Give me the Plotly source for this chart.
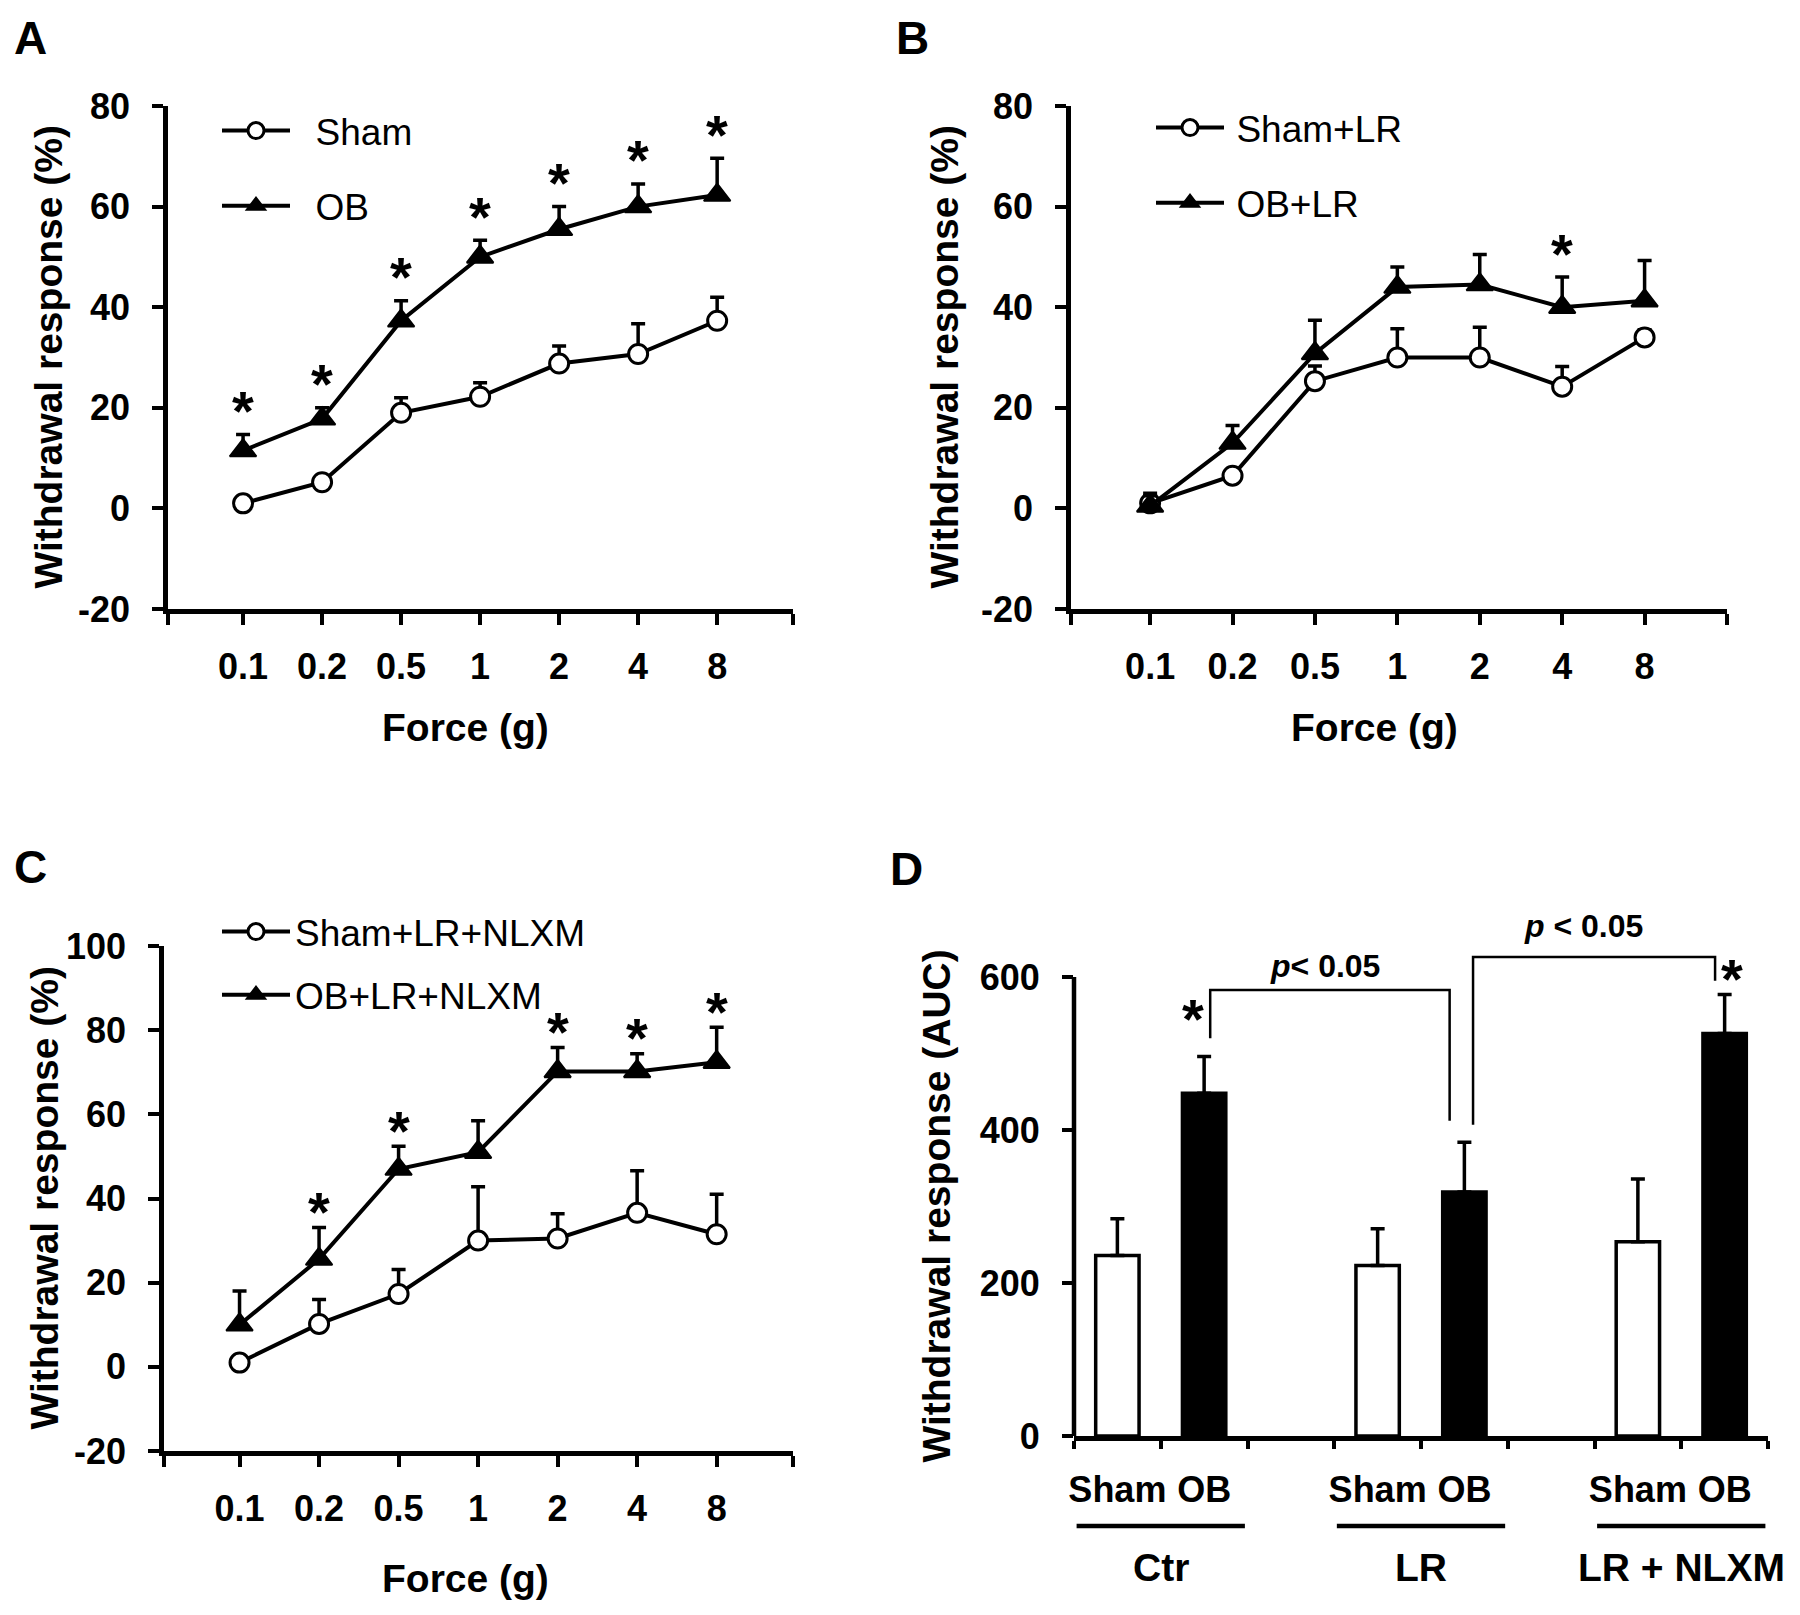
import plotly.graph_objects as go

PAGE_W, PAGE_H = 1800, 1615
OFF = 8                      # default <body> margin of the html page
W, H = PAGE_W - OFF, PAGE_H - OFF
FONT = "Liberation Sans, Arial, sans-serif"

# ---------------- data ----------------
forces = ["0.1", "0.2", "0.5", "1", "2", "4", "8"]

a_sham = [1.0, 5.2, 19.0, 22.2, 28.8, 30.7, 37.3]
a_sham_err = [0.0, 0.0, 3.0, 2.8, 3.5, 6.0, 4.7]
a_ob = [11.5, 17.8, 37.3, 50.0, 55.5, 60.0, 62.3]
a_ob_err = [3.2, 2.2, 4.0, 3.3, 4.5, 4.5, 7.3]
a_stars = [1, 1, 1, 1, 1, 1, 1]

b_sham = [1.0, 6.5, 25.3, 30.0, 30.0, 24.2, 34.0]
b_sham_err = [2.0, 0.5, 3.0, 5.7, 6.0, 4.0, 1.5]
b_ob = [0.5, 13.0, 30.8, 44.0, 44.5, 40.0, 41.3]
b_ob_err = [2.0, 3.5, 6.6, 4.0, 6.0, 6.0, 8.0]
b_stars = [0, 0, 0, 0, 0, 1, 0]

c_sham = [1.0, 10.2, 17.3, 30.0, 30.5, 36.6, 31.5]
c_sham_err = [0.0, 5.8, 5.8, 12.8, 5.9, 10.0, 9.5]
c_ob = [10.0, 25.6, 47.0, 51.0, 70.2, 70.2, 72.4]
c_ob_err = [8.0, 7.5, 5.4, 7.5, 5.7, 4.2, 8.3]
c_stars = [0, 1, 1, 0, 1, 1, 1]

ab_yticks = [-20, 0, 20, 40, 60, 80]
c_yticks = [-20, 0, 20, 40, 60, 80, 100]

d_groups = ["Ctr", "LR", "LR + NLXM"]
d_bar_labels = ["Sham", "OB"]
d_sham = [236, 223, 254]
d_sham_err = [48, 48, 82]
d_ob = [448, 319, 526]
d_ob_err = [48, 65, 51]
d_ob_stars = [1, 0, 1]
d_yticks = [0, 200, 400, 600]
d_brackets = [
    dict(xl=1.07, xr=3.83, yl=520, yt=583, yr=412, text="<i>p</i>< 0.05", tx=2.39, ty=614),
    dict(xl=4.10, xr=6.89, yl=407, yt=626, yr=595, text="<i>p</i> < 0.05", tx=5.37, ty=667),
]

# ---------------- helpers (page pixel -> paper fraction) ----------------
def px2x(p):
    return (p - OFF) / W


def py2y(p):
    return 1 - (p - OFF) / H


def xdom(p0, p1):
    return [px2x(p0), px2x(p1)]


def ydom(top, bot):
    return [py2y(bot), py2y(top)]


def tick_text(vals):
    return [str(v) for v in vals]  # plain hyphen-minus like the reference


tickfont = dict(family=FONT, size=36, color="black", weight="bold")
titlefont = dict(family=FONT, size=39, color="black", weight="bold")
starfont = dict(family=FONT, size=56, color="black", weight="bold")

axis_common = dict(
    showline=True, linecolor="black", linewidth=4.5, mirror=False, automargin=False,
    ticks="outside", ticklen=11, tickwidth=3.5, tickcolor="black",
    showgrid=False, zeroline=False, tickfont=tickfont,
)

fig = go.Figure()
idx = list(range(len(forces)))

panels = [
    ("x", "y", "legend", a_sham, a_sham_err, a_ob, a_ob_err, a_stars, ("Sham", "OB"), "\u00a0\u00a0", 24),
    ("x2", "y2", "legend2", b_sham, b_sham_err, b_ob, b_ob_err, b_stars, ("Sham+LR", "OB+LR"), "\u2009", 24),
    ("x3", "y3", "legend3", c_sham, c_sham_err, c_ob, c_ob_err, c_stars,
     ("Sham+LR+NLXM", "OB+LR+NLXM"), "", 16),
]

annotations = []
shapes = []

for xa, ya, lg, sh, she, ob, obe, st, names, pad, star_shift in panels:
    fig.add_trace(go.Scatter(
        x=idx, y=sh, mode="lines+markers", name=pad + names[0],
        xaxis=xa, yaxis=ya, legend=lg, legendgroup=f"{lg}a",
        line=dict(color="black", width=4),
        marker=dict(symbol="circle", size=19, color="white", line=dict(color="black", width=3)),
        error_y=dict(type="data", symmetric=False, array=she, arrayminus=[0] * len(sh),
                     color="black", thickness=3.5, width=7),
        hoverinfo="skip",
    ))
    fig.add_trace(go.Scatter(
        x=idx, y=ob, mode="lines+markers", name=pad + names[1],
        xaxis=xa, yaxis=ya, legend=lg, legendgroup=f"{lg}b",
        line=dict(color="black", width=4),
        marker=dict(symbol="triangle-up", size=23, color="black", line=dict(color="black", width=2)),
        error_y=dict(type="data", symmetric=False, array=obe, arrayminus=[0] * len(ob),
                     color="black", thickness=3.5, width=7),
        hoverinfo="skip",
    ))
    for i, s in enumerate(st):
        if s:
            annotations.append(dict(
                x=idx[i], y=ob[i] + obe[i], xref=xa, yref=ya, text="*", showarrow=False,
                xanchor="center", yanchor="middle", yshift=star_shift, font=starfont,
            ))

# ---------------- panel D bars ----------------
sham_x = [3 * i for i in range(len(d_groups))]
ob_x = [3 * i + 1 for i in range(len(d_groups))]
fig.add_trace(go.Bar(
    x=sham_x, y=d_sham, width=0.5, xaxis="x4", yaxis="y4", showlegend=False,
    marker=dict(color="white", line=dict(color="black", width=3.5)),
    error_y=dict(type="data", symmetric=False, array=d_sham_err, arrayminus=[0] * 3,
                 color="black", thickness=3.5, width=7),
    hoverinfo="skip",
))
fig.add_trace(go.Bar(
    x=ob_x, y=d_ob, width=0.5, xaxis="x4", yaxis="y4", showlegend=False,
    marker=dict(color="black", line=dict(color="black", width=3.5)),
    error_y=dict(type="data", symmetric=False, array=d_ob_err, arrayminus=[0] * 3,
                 color="black", thickness=3.5, width=7),
    hoverinfo="skip",
))

d_star_dx = [-0.13, 0.0, 0.09]
d_star_shift = [38, 0, 16]
for i, s in enumerate(d_ob_stars):
    if s:
        annotations.append(dict(
            x=ob_x[i] + d_star_dx[i], y=d_ob[i] + d_ob_err[i], xref="x4", yref="y4",
            text="*", showarrow=False, xanchor="center", yanchor="middle",
            yshift=d_star_shift[i], font=starfont,
        ))

for b in d_brackets:
    shapes.append(dict(
        type="path", xref="x4", yref="y4",
        path=f"M {b['xl']},{b['yl']} L {b['xl']},{b['yt']} L {b['xr']},{b['yt']} L {b['xr']},{b['yr']}",
        line=dict(color="black", width=2.5),
    ))
    annotations.append(dict(
        x=b["tx"], y=b["ty"], xref="x4", yref="y4", text=b["text"], showarrow=False,
        xanchor="center", yanchor="middle",
        font=dict(family=FONT, size=32, color="black", weight="bold"),
    ))

# D group labels and underlines
for i, g in enumerate(d_groups):
    c = (sham_x[i] + ob_x[i]) / 2
    shapes.append(dict(type="line", xref="x4", yref="paper", x0=c - 0.97, x1=c + 0.97,
                       y0=py2y(1526), y1=py2y(1526), line=dict(color="black", width=4.5)))
    annotations.append(dict(x=c, y=py2y(1567), xref="x4", yref="paper", text=g, showarrow=False,
                            xanchor="center", yanchor="middle",
                            font=dict(family=FONT, size=39, color="black", weight="bold")))

# D y axis line only up to the last tick
D_YMAX = 700
D_TOP_TICK = d_yticks[-1]
shapes.append(dict(type="line", xref="x4 domain", yref="y4", x0=0, x1=0, y0=0, y1=D_TOP_TICK,
                   line=dict(color="black", width=4.5)))

# axis titles
ytitles = [("y", 48, "Withdrawal response (%)", (ab_yticks[0] + ab_yticks[-1]) / 2),
           ("y2", 944, "Withdrawal response (%)", (ab_yticks[0] + ab_yticks[-1]) / 2),
           ("y3", 44, "Withdrawal response (%)", (c_yticks[0] + c_yticks[-1]) / 2),
           ("y4", 936, "Withdrawal response (AUC)", D_TOP_TICK / 2)]
for yref, px, txt, yc in ytitles:
    annotations.append(dict(x=px2x(px), y=yc, xref="paper", yref=yref, text=txt, textangle=-90,
                            showarrow=False, xanchor="center", yanchor="middle", font=titlefont))
for px, py in [(465, 727), (1374, 727), (465, 1578)]:
    annotations.append(dict(x=px2x(px), y=py2y(py), xref="paper", yref="paper", text="Force (g)",
                            showarrow=False, xanchor="center", yanchor="middle", font=titlefont))

# panel letters
for letter, (px, py) in zip("ABCD", [(30, 38), (912, 38), (30, 867), (907, 869)]):
    annotations.append(dict(x=px2x(px), y=py2y(py), xref="paper", yref="paper", text=letter,
                            showarrow=False, xanchor="center", yanchor="middle",
                            font=dict(family=FONT, size=46, color="black", weight="bold")))

# ---------------- axes ----------------
def force_xaxis(dom, rng, anchor):
    return dict(axis_common, domain=dom, range=rng, anchor=anchor,
                tickvals=[rng[0]] + idx + [rng[1]], ticktext=[""] + forces + [""],
                ticklabelstandoff=11)


def force_yaxis(dom, rng, anchor, ticks):
    return dict(axis_common, domain=dom, range=rng, anchor=anchor,
                tickvals=ticks, ticktext=tick_text(ticks), ticklabelstandoff=15)


d_ytop = 1436 - (D_YMAX / D_TOP_TICK) * (1436 - 977)

fig.update_layout(
    width=W, height=H,
    margin=dict(l=0, r=0, t=0, b=0, autoexpand=False),
    paper_bgcolor="white", plot_bgcolor="rgba(0,0,0,0)",
    font=dict(family=FONT, color="black"),
    xaxis=force_xaxis(xdom(168, 793), [-0.95, 6.96], "y"),
    yaxis=force_yaxis(ydom(106, 609), [ab_yticks[0], ab_yticks[-1]], "x", ab_yticks),
    xaxis2=force_xaxis(xdom(1071, 1727), [-0.96, 7.0], "y2"),
    yaxis2=force_yaxis(ydom(106, 609), [ab_yticks[0], ab_yticks[-1]], "x2", ab_yticks),
    xaxis3=force_xaxis(xdom(164, 793), [-0.95, 6.96], "y3"),
    yaxis3=force_yaxis(ydom(946, 1451), [c_yticks[0], c_yticks[-1]], "x3", c_yticks),
    xaxis4=dict(axis_common, domain=xdom(1074, 1768), range=[-0.5, 7.5], anchor="y4",
                tickvals=sham_x + ob_x, ticktext=[d_bar_labels[0]] * 3 + [d_bar_labels[1]] * 3,
                ticks="", ticklabelstandoff=18,
                minor=dict(tickvals=[v - 0.5 for v in range(0, 9)], ticks="outside",
                           ticklen=8, tickwidth=3.5, tickcolor="black", showgrid=False)),
    yaxis4=dict(axis_common, domain=ydom(d_ytop, 1436), range=[0, D_YMAX], anchor="x4",
                showline=False, tickvals=d_yticks, ticktext=tick_text(d_yticks),
                ticklabelstandoff=15),
    annotations=annotations,
    shapes=shapes,
    showlegend=True,
)

leg_common = dict(xanchor="left", yanchor="top", bgcolor="rgba(0,0,0,0)", itemwidth=68,
                  font=dict(family=FONT, size=37, color="black"),
                  itemclick=False, itemdoubleclick=False)
fig.update_layout(
    legend=dict(leg_common, x=px2x(217), y=py2y(100), tracegroupgap=24),
    legend2=dict(leg_common, x=px2x(1151), y=py2y(97), tracegroupgap=24),
    legend3=dict(leg_common, x=px2x(217), y=py2y(901), tracegroupgap=12),
)

fig.write_html("out.html")
